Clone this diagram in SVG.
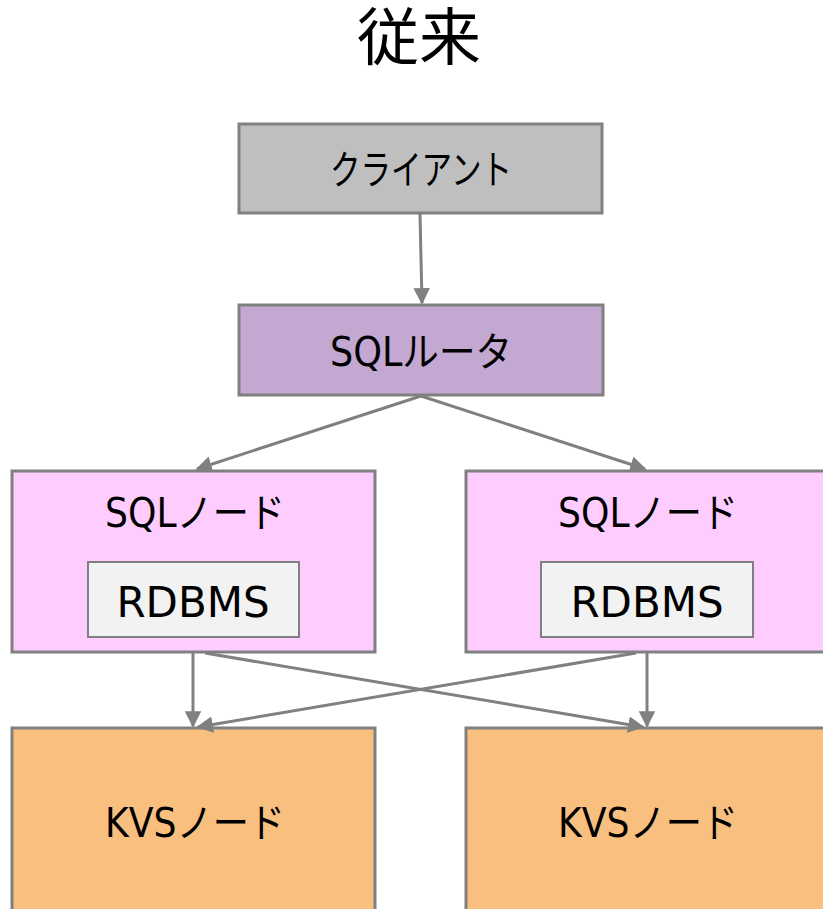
<svg xmlns="http://www.w3.org/2000/svg" width="823" height="909" viewBox="0 0 823 909">
  <style>
    .box { stroke: #808080; stroke-width: 3; }
    .inner { fill: #f2f2f2; stroke: #808080; stroke-width: 2; }
    .lbl { font-family: "DejaVu Sans", "Noto Sans CJK JP", sans-serif; font-size: 40px; fill: #000; text-anchor: middle; }
    .big { font-size: 42px; }
    .title { font-family: "Noto Sans CJK JP", sans-serif; font-size: 62px; fill: #000; text-anchor: middle; }
    .conn { stroke: #808080; stroke-width: 3; fill: none; marker-end: url(#arrow); }
  </style>
  <defs>
    <marker id="arrow" viewBox="0 0 10 10" refX="9" refY="5" markerWidth="5.5" markerHeight="5.5" orient="auto" markerUnits="strokeWidth">
      <path d="M0,0 L10,5 L0,10 z" fill="#808080"/>
    </marker>
  </defs>

  <text class="title" x="419" y="60">従来</text>

  <g id="client">
    <rect class="box" x="239" y="124" width="363" height="89" fill="#bfbfbf"/>
    <text class="lbl" x="421" y="184" textLength="182" lengthAdjust="spacingAndGlyphs">クライアント</text>
  </g>

  <g id="sql-router">
    <rect class="box" x="239" y="305" width="364" height="90" fill="#c3a8d1"/>
    <text class="lbl" x="421" y="366" textLength="182" lengthAdjust="spacingAndGlyphs">SQLルータ</text>
  </g>

  <g id="sql-node-left">
    <rect class="box" x="12" y="471" width="363" height="181" fill="#ffccff"/>
    <text class="lbl" x="195" y="527" textLength="180" lengthAdjust="spacingAndGlyphs">SQLノード</text>
    <rect class="inner" x="88" y="562" width="211" height="75"/>
    <text class="lbl big" x="193" y="617">RDBMS</text>
  </g>

  <g id="sql-node-right">
    <rect class="box" x="466" y="471" width="363" height="181" fill="#ffccff"/>
    <text class="lbl" x="648" y="527" textLength="180" lengthAdjust="spacingAndGlyphs">SQLノード</text>
    <rect class="inner" x="541" y="562" width="212" height="75"/>
    <text class="lbl big" x="647" y="617">RDBMS</text>
  </g>

  <g id="kvs-node-left">
    <rect class="box" x="12" y="728" width="363" height="190" fill="#f8bf7e"/>
    <text class="lbl" x="195" y="837" textLength="180" lengthAdjust="spacingAndGlyphs">KVSノード</text>
  </g>

  <g id="kvs-node-right">
    <rect class="box" x="466" y="728" width="363" height="190" fill="#f8bf7e"/>
    <text class="lbl" x="648" y="837" textLength="180" lengthAdjust="spacingAndGlyphs">KVSノード</text>
  </g>

  <g id="connectors">
    <line class="conn" x1="420" y1="214" x2="422" y2="303"/>
    <line class="conn" x1="421" y1="396" x2="197" y2="469"/>
    <line class="conn" x1="421" y1="396" x2="645" y2="469"/>
    <line class="conn" x1="193" y1="653" x2="193" y2="726"/>
    <line class="conn" x1="647" y1="653" x2="647" y2="726"/>
    <line class="conn" x1="205" y1="653" x2="643" y2="727"/>
    <line class="conn" x1="636" y1="653" x2="198" y2="727"/>
  </g>
</svg>
